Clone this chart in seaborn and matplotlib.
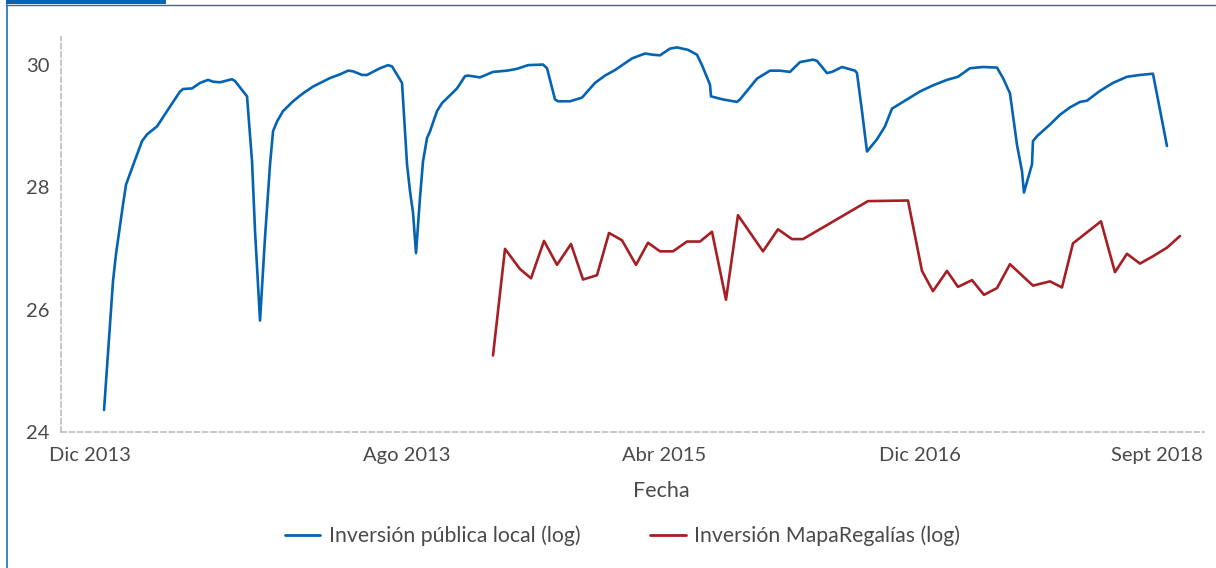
import pandas as pd
import matplotlib.pyplot as plt
import seaborn as sns
from matplotlib.lines import Line2D
from matplotlib.patches import Rectangle

# periodo (indice de tiempo) y valores en log
t_publica = [0.0, 0.9, 1.2, 1.9, 2.2, 2.8, 3.8, 4.3, 5.3, 6.3, 7.6, 7.9, 8.8, 9.6, 10.4, 10.9,
             11.6, 12.8, 13.1, 14.3, 14.8, 15.1, 15.6, 16.1, 16.6, 16.9, 17.3, 17.9, 18.9, 19.9,
             20.9, 22.6, 23.6, 24.4, 24.9, 25.8, 26.3, 27.6, 28.4, 28.8, 29.8, 30.1, 30.3, 30.6,
             30.9, 31.2, 31.6, 31.9, 32.3, 32.6, 33.3, 33.8, 35.3, 36.1, 36.4, 37.6, 38.9, 40.3,
             41.3, 42.4, 43.9, 44.3, 45.1, 45.4, 46.6, 47.8, 49.1, 50.1, 51.1, 52.8, 54.1, 54.9,
             55.6, 56.6, 57.3, 58.4, 59.3, 59.8, 60.6, 60.7, 61.9, 63.3, 63.6, 65.3, 66.6, 67.6,
             68.6, 69.6, 70.9, 71.3, 72.3, 72.8, 73.8, 75.1, 75.3, 75.8, 76.3, 77.3, 78.1, 78.8,
             79.4, 80.3, 81.6, 82.9, 84.3, 85.4, 86.6, 87.9, 89.3, 89.9, 90.6, 91.3, 91.8, 92.0,
             92.8, 92.9, 93.3, 94.6, 95.6, 96.6, 97.6, 98.3, 99.6, 100.9, 102.3, 103.6, 104.9, 106.3]
inv_publica = [24.36, 26.47, 26.91, 27.72, 28.04, 28.31, 28.75, 28.86, 28.99, 29.24, 29.56, 29.60,
               29.61, 29.70, 29.75, 29.72, 29.71, 29.76, 29.73, 29.48, 28.42, 27.28, 25.82, 27.18,
               28.37, 28.91, 29.07, 29.24, 29.40, 29.53, 29.64, 29.78, 29.84, 29.90, 29.89, 29.83,
               29.83, 29.94, 29.99, 29.97, 29.70, 28.91, 28.37, 27.93, 27.58, 26.92, 27.83, 28.42,
               28.80, 28.91, 29.24, 29.37, 29.61, 29.81, 29.82, 29.79, 29.88, 29.90, 29.93, 29.99,
               30.00, 29.94, 29.43, 29.40, 29.40, 29.46, 29.70, 29.82, 29.91, 30.10, 30.18, 30.16,
               30.15, 30.26, 30.28, 30.24, 30.16, 29.99, 29.67, 29.48, 29.43, 29.39, 29.43, 29.77,
               29.90, 29.90, 29.88, 30.04, 30.08, 30.06, 29.86, 29.88, 29.96, 29.90, 29.86, 29.24,
               28.58, 28.78, 28.99, 29.28, 29.34, 29.43, 29.56, 29.66, 29.75, 29.80, 29.94, 29.96,
               29.95, 29.78, 29.53, 28.69, 28.26, 27.91, 28.37, 28.75, 28.83, 29.02, 29.18, 29.30,
               29.39, 29.41, 29.57, 29.70, 29.80, 29.83, 29.85, 28.67]

t_regalias = [38.9, 40.1, 41.6, 42.7, 44.0, 45.3, 46.7, 47.9, 49.3, 50.5, 51.8, 53.2, 54.4, 55.6,
              56.9, 58.3, 59.6, 60.8, 62.2, 63.4, 65.9, 67.4, 68.8, 69.9, 76.4, 80.4, 81.8, 82.9,
              84.3, 85.4, 86.8, 88.0, 89.3, 90.6, 92.9, 94.6, 95.8, 96.9, 99.7, 101.1, 102.3,
              103.6, 104.9, 106.3, 107.6]
inv_regalias = [25.25, 26.99, 26.66, 26.51, 27.12, 26.73, 27.07, 26.49, 26.56, 27.25, 27.13, 26.73,
                27.09, 26.95, 26.95, 27.11, 27.11, 27.27, 26.16, 27.54, 26.95, 27.31, 27.15, 27.15,
                27.77, 27.78, 26.63, 26.30, 26.63, 26.37, 26.48, 26.24, 26.35, 26.74, 26.39, 26.46,
                26.36, 27.08, 27.44, 26.61, 26.91, 26.75, 26.87, 27.01, 27.20]

tick_pos = [-1.4, 30.3, 56.0, 81.6, 105.3]
tick_labels = ['Dic 2013', 'Ago 2013', 'Abr 2015', 'Dic 2016', 'Sept 2018']

serie_pub = 'Inversión pública local (log)'
serie_reg = 'Inversión MapaRegalías (log)'
colores = {serie_pub: '#0563b3', serie_reg: '#a51f24'}

df = pd.concat([
    pd.DataFrame({'t': t_publica, 'valor': inv_publica, 'serie': serie_pub}),
    pd.DataFrame({'t': t_regalias, 'valor': inv_regalias, 'serie': serie_reg}),
])

sns.set_style('white')
plt.rcParams['font.family'] = ['Lato', 'DejaVu Sans']
texto = '#4a4a4a'

fig = plt.figure(figsize=(12.16, 5.68), dpi=100)
ax = fig.add_axes([0.0502, 0.2394, 0.9399, 0.6955])

sns.lineplot(data=df, x='t', y='valor', hue='serie', palette=colores, linewidth=1.9,
             estimator=None, sort=False, legend=False, ax=ax)

ax.set_xlim(-4.3, 110.0)
ax.set_ylim(24, 30.45)
ax.set_yticks([24, 26, 28, 30])
ax.set_xticks(tick_pos)
ax.set_xticklabels(tick_labels)
ax.tick_params(axis='both', length=0, labelsize=14.5, labelcolor=texto)
ax.tick_params(axis='x', pad=11)
ax.tick_params(axis='y', pad=8)

ax.set_ylabel('')
ax.set_xlabel('Fecha', fontsize=15.5, color=texto)
ax.xaxis.set_label_coords(0.525, -0.125)

for side in ['top', 'right']:
    ax.spines[side].set_visible(False)
for side in ['left', 'bottom']:
    ax.spines[side].set_linestyle((0, (3, 2)))
    ax.spines[side].set_color('#bdbdbd')
    ax.spines[side].set_linewidth(1.2)

handles = [Line2D([], [], color=colores[serie_pub], linewidth=2.0),
           Line2D([], [], color=colores[serie_reg], linewidth=2.0)]
leg = fig.legend(handles, [serie_pub, serie_reg], loc='center', bbox_to_anchor=(0.512, 0.056),
                 ncol=2, frameon=False, fontsize=15.3, handlelength=1.65, handletextpad=0.4,
                 columnspacing=3.3)
for txt in leg.get_texts():
    txt.set_color(texto)

# marco decorativo
fig.add_artist(Line2D([6 / 1216, 1], [1 - 4.5 / 568, 1 - 4.5 / 568], color='#1f6fb8',
                      linewidth=1.0, transform=fig.transFigure))
fig.add_artist(Line2D([6.5 / 1216, 6.5 / 1216], [0, 1 - 4.5 / 568], color='#1f6fb8',
                      linewidth=1.2, transform=fig.transFigure))
fig.add_artist(Rectangle((6 / 1216, 1 - 4 / 568), 160 / 1216, 4 / 568, color='#0563b3',
                         transform=fig.transFigure, linewidth=0))

fig.savefig('out.png', dpi=100)
